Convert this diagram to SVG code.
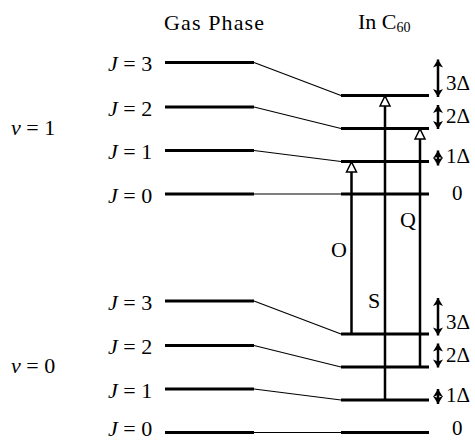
<svg xmlns="http://www.w3.org/2000/svg" width="475" height="440" viewBox="0 0 475 440">
<style>
text{font-family:"Liberation Serif","Times New Roman",serif;fill:#000}
.t{font-size:22px}
.s{font-size:21px}
.lvl{stroke:#000;stroke-width:3;fill:none}
.cor{stroke:#000;stroke-width:1.2;fill:none}
.tr{stroke:#000;stroke-width:2.5;fill:none;marker-end:url(#open)}
.da{stroke:#000;stroke-width:2.5;fill:none;marker-start:url(#solid);marker-end:url(#solid)}
</style>
<defs>
<marker id="open" markerUnits="userSpaceOnUse" viewBox="-1 -6 12 12" markerWidth="12" markerHeight="12" refX="10" refY="0" orient="auto" overflow="visible">
<path d="M0,-5 L10,0 L0,5 Z" fill="#fff" stroke="#000" stroke-width="1.5"/>
</marker>
<marker id="solid" markerUnits="userSpaceOnUse" viewBox="-1 -6 10 12" markerWidth="10" markerHeight="12" refX="8" refY="0" orient="auto-start-reverse" overflow="visible">
<path d="M0,-5 L8,0 L0,5 L2,0 Z" fill="#000"/>
</marker>
</defs>
<rect width="475" height="440" fill="#fff"/>

<g id="headers">
<text class="t" x="164" y="30" textLength="100" lengthAdjust="spacing">Gas Phase</text>
<text class="t" x="358" y="29">In C<tspan font-size="14" dy="3">60</tspan></text>
</g>

<g id="v1-label"><text class="t" x="11" y="135"><tspan font-style="italic">ν</tspan> = 1</text></g>
<g id="v0-label"><text class="t" x="11" y="373"><tspan font-style="italic">ν</tspan> = 0</text></g>

<g id="gas-v1-J3"><line class="lvl" x1="165" y1="62.5" x2="254" y2="62.5"/><text class="t" x="108" y="71"><tspan font-style="italic">J</tspan> = 3</text></g>
<g id="gas-v1-J2"><line class="lvl" x1="165" y1="107" x2="254" y2="107"/><text class="t" x="108" y="115.5"><tspan font-style="italic">J</tspan> = 2</text></g>
<g id="gas-v1-J1"><line class="lvl" x1="165" y1="150.5" x2="254" y2="150.5"/><text class="t" x="108" y="159"><tspan font-style="italic">J</tspan> = 1</text></g>
<g id="gas-v1-J0"><line class="lvl" x1="165" y1="194" x2="254" y2="194"/><text class="t" x="108" y="202.5"><tspan font-style="italic">J</tspan> = 0</text></g>

<g id="gas-v0-J3"><line class="lvl" x1="165" y1="301" x2="254" y2="301"/><text class="t" x="108" y="309.5"><tspan font-style="italic">J</tspan> = 3</text></g>
<g id="gas-v0-J2"><line class="lvl" x1="165" y1="345.5" x2="254" y2="345.5"/><text class="t" x="108" y="354"><tspan font-style="italic">J</tspan> = 2</text></g>
<g id="gas-v0-J1"><line class="lvl" x1="165" y1="389" x2="254" y2="389"/><text class="t" x="108" y="397.5"><tspan font-style="italic">J</tspan> = 1</text></g>
<g id="gas-v0-J0"><line class="lvl" x1="165" y1="432.5" x2="254" y2="432.5"/><text class="t" x="108" y="436"><tspan font-style="italic">J</tspan> = 0</text></g>

<g id="c60-v1-J3"><line class="lvl" x1="341" y1="95.5" x2="429" y2="95.5"/><text class="s" x="446" y="90">3Δ</text></g>
<g id="c60-v1-J2"><line class="lvl" x1="341" y1="128.5" x2="429" y2="128.5"/><text class="s" x="446" y="123">2Δ</text></g>
<g id="c60-v1-J1"><line class="lvl" x1="341" y1="161.5" x2="429" y2="161.5"/><text class="s" x="446" y="163">1Δ</text></g>
<g id="c60-v1-J0"><line class="lvl" x1="341" y1="194" x2="429" y2="194"/><text class="s" x="452" y="200">0</text></g>

<g id="c60-v0-J3"><line class="lvl" x1="341" y1="334" x2="429" y2="334"/><text class="s" x="446" y="328.5">3Δ</text></g>
<g id="c60-v0-J2"><line class="lvl" x1="341" y1="367" x2="429" y2="367"/><text class="s" x="446" y="361.5">2Δ</text></g>
<g id="c60-v0-J1"><line class="lvl" x1="341" y1="400" x2="429" y2="400"/><text class="s" x="446" y="401.5">1Δ</text></g>
<g id="c60-v0-J0"><line class="lvl" x1="341" y1="432.5" x2="429" y2="432.5"/><text class="s" x="452" y="435">0</text></g>

<g id="connectors">
<line class="cor" x1="254" y1="62.5" x2="341" y2="95.5"/>
<line class="cor" x1="254" y1="107" x2="341" y2="128.5"/>
<line class="cor" x1="254" y1="150.5" x2="341" y2="161.5"/>
<line class="cor" x1="254" y1="194" x2="341" y2="194"/>
<line class="cor" x1="254" y1="301" x2="341" y2="334"/>
<line class="cor" x1="254" y1="345.5" x2="341" y2="367"/>
<line class="cor" x1="254" y1="389" x2="341" y2="400"/>
<line class="cor" x1="254" y1="432.5" x2="341" y2="432.5"/>

<line class="tr" x1="351.5" y1="334" x2="351.5" y2="162"/>
<line class="tr" x1="385" y1="400" x2="385" y2="96"/>
<line class="tr" x1="420" y1="367" x2="420" y2="129"/>

<line class="da" x1="438" y1="59.5" x2="438" y2="97"/>
<line class="da" x1="438" y1="105" x2="438" y2="129"/>
<line class="da" x1="438" y1="150.5" x2="438" y2="165.5"/>
<line class="da" x1="438" y1="298" x2="438" y2="335.5"/>
<line class="da" x1="438" y1="343.5" x2="438" y2="367.5"/>
<line class="da" x1="438" y1="389" x2="438" y2="404"/>
</g>

<g id="transition-labels">
<text class="t" x="331" y="257">O</text>
<text class="t" x="368" y="308">S</text>
<text class="t" x="400" y="227">Q</text>
</g>
</svg>
